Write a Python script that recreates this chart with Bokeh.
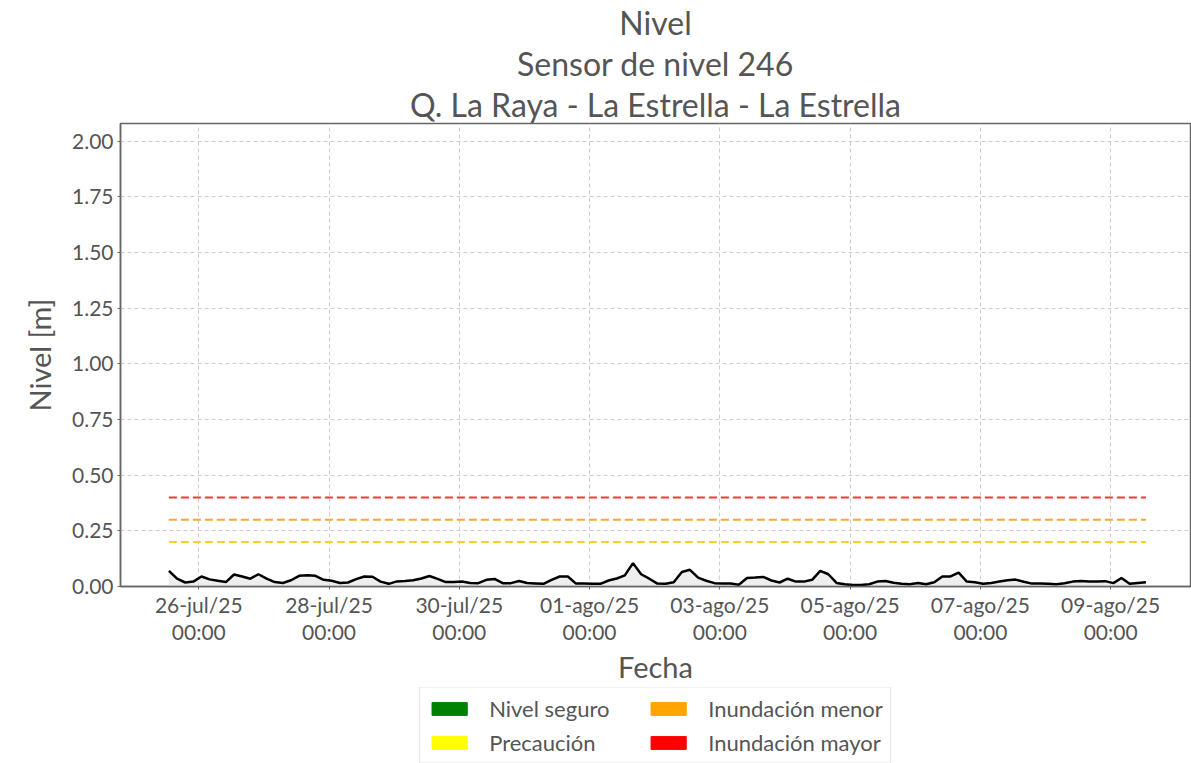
import pandas as pd
from bokeh.plotting import figure
from bokeh.layouts import column
from bokeh.models import (Range1d, FixedTicker, CustomJSTickFormatter, NumeralTickFormatter,
                          Legend, LegendItem, Title, ColumnDataSource)
from bokeh.embed import file_html
from bokeh.resources import INLINE

# ---------------- data ----------------
start_time = "2025-07-25 13:00"
step = "3h"
nivel = [0.070, 0.035, 0.018, 0.022, 0.045, 0.032, 0.026, 0.020, 0.054, 0.045,
         0.035, 0.055, 0.035, 0.020, 0.016, 0.028, 0.048, 0.050, 0.048, 0.030,
         0.026, 0.016, 0.018, 0.033, 0.045, 0.044, 0.022, 0.012, 0.023, 0.025,
         0.028, 0.036, 0.047, 0.034, 0.020, 0.020, 0.022, 0.016, 0.015, 0.030,
         0.034, 0.015, 0.015, 0.025, 0.016, 0.014, 0.012, 0.030, 0.045, 0.045,
         0.013, 0.013, 0.012, 0.012, 0.027, 0.036, 0.050, 0.105, 0.055, 0.035,
         0.013, 0.012, 0.019, 0.065, 0.075, 0.040, 0.026, 0.015, 0.013, 0.013,
         0.008, 0.038, 0.040, 0.043, 0.027, 0.018, 0.035, 0.022, 0.022, 0.030,
         0.070, 0.055, 0.016, 0.010, 0.007, 0.007, 0.010, 0.022, 0.025, 0.017,
         0.012, 0.010, 0.016, 0.010, 0.019, 0.045, 0.045, 0.062, 0.022, 0.019,
         0.012, 0.016, 0.022, 0.028, 0.031, 0.021, 0.013, 0.013, 0.012, 0.010,
         0.015, 0.022, 0.025, 0.022, 0.023, 0.024, 0.015, 0.038, 0.012, 0.016,
         0.019]

thr_values = [0.20, 0.30, 0.40]
thr_colors = ["#f7d22a", "#f8a83a", "#ee3b3b"]

legend_labels = ["Nivel seguro", "Precaución", "Inundación menor", "Inundación mayor"]
legend_colors = ["#008000", "#ffff00", "#ffa500", "#ff0000"]

x_tick_dates = ["2025-07-26", "2025-07-28", "2025-07-30", "2025-08-01",
                "2025-08-03", "2025-08-05", "2025-08-07", "2025-08-09"]
x_tick_labels = ["26-jul/25\n00:00", "28-jul/25\n00:00", "30-jul/25\n00:00", "01-ago/25\n00:00",
                 "03-ago/25\n00:00", "05-ago/25\n00:00", "07-ago/25\n00:00", "09-ago/25\n00:00"]
y_ticks = [0.0, 0.25, 0.5, 0.75, 1.0, 1.25, 1.5, 1.75, 2.0]

title_lines = ["Nivel", "Sensor de nivel 246", "Q. La Raya - La Estrella - La Estrella"]
# --------------------------------------

FONT = "Lato"
GREY = "#555555"

t = pd.date_range(start_time, periods=len(nivel), freq=step)
day0 = pd.Timestamp("2025-07-26")
x_start = day0 - pd.Timedelta(days=1.2015)
x_end = day0 + pd.Timedelta(days=15.226)

p = figure(width=1191, height=687, x_axis_type="datetime",
           x_range=Range1d(x_start, x_end), y_range=Range1d(0, 2.08),
           output_backend="svg", toolbar_location=None,
           min_border_left=114, min_border_right=1, min_border_top=121, min_border_bottom=97)

p.title = None
for line in reversed(title_lines):
    ttl = Title(text=line, align="center", text_font=FONT, text_font_size="32px",
                text_color=GREY, text_font_style="normal", standoff=0, offset=0,
                text_line_height=1.0)
    p.add_layout(ttl, "above")

# fill and line
p.varea(x=t, y1=0, y2=nivel, fill_color="#e3e3e3", fill_alpha=0.6)
p.line(x=t, y=nivel, line_color="black", line_width=2.5)

# thresholds
for v, c in zip(thr_values, thr_colors):
    p.line(x=[t[0], t[-1]], y=[v, v], line_color=c, line_width=2, line_dash="8 4")

# axes
tick_ms = [pd.Timestamp(d).value / 1e6 for d in x_tick_dates]
p.xaxis.ticker = FixedTicker(ticks=tick_ms)
p.xaxis.formatter = CustomJSTickFormatter(args=dict(tvals=tick_ms, tlabels=x_tick_labels), code="""
let best = 0, bd = Infinity;
for (let i = 0; i < tvals.length; i++) { const d = Math.abs(tvals[i] - tick); if (d < bd) { bd = d; best = i; } }
return tlabels[best];
""")
p.yaxis.ticker = FixedTicker(ticks=y_ticks)
p.yaxis.formatter = NumeralTickFormatter(format="0.00")

p.xaxis.axis_label = "Fecha"
p.yaxis.axis_label = "Nivel [m]"
for ax in (p.xaxis, p.yaxis):
    ax.axis_label_text_font = FONT
    ax.axis_label_text_font_size = "29px"
    ax.axis_label_text_font_style = "normal"
    ax.axis_label_text_color = GREY
    ax.major_label_text_font = FONT
    ax.major_label_text_font_size = "21px"
    ax.major_label_text_color = GREY
    ax.major_label_text_line_height = 1.1
    ax.axis_line_color = "#666666"
    ax.axis_line_width = 1.5
    ax.major_tick_line_color = "#666666"
    ax.major_tick_in = 0
    ax.major_tick_out = 3
    ax.minor_tick_line_color = None
    ax.major_label_standoff = 2
    ax.axis_label_standoff = 2
p.yaxis.axis_label_standoff = 12
p.yaxis.major_label_standoff = 4

p.outline_line_color = "#666666"
p.outline_line_width = 1.5
p.grid.grid_line_color = "#cccccc"
p.grid.grid_line_dash = "4 3"
p.grid.grid_line_width = 1

# legend figure below
pl = figure(width=1191, height=76, output_backend="svg", toolbar_location=None,
            x_range=Range1d(0, 1), y_range=Range1d(0, 1),
            min_border_left=120, min_border_right=0, min_border_top=0, min_border_bottom=0)
pl.axis.visible = False
pl.grid.visible = False
pl.outline_line_color = None
items = []
for lab, c in zip(legend_labels, legend_colors):
    src = ColumnDataSource(dict(l=[float("nan")], r=[float("nan")], t=[float("nan")], b=[float("nan")]))
    r = pl.quad(left="l", right="r", top="t", bottom="b", source=src, fill_color=c, line_color=c)
    items.append(LegendItem(label=lab, renderers=[r], index=0))

legend = Legend(items=items, ncols=2, location="center", glyph_width=44, glyph_height=16,
                label_text_font=FONT, label_text_font_size="22px", label_text_color=GREY,
                label_standoff=18, label_width=150, label_height=20, spacing=7, padding=7, margin=0,
                border_line_color="#cccccc", border_line_width=1.5, background_fill_alpha=1)
pl.add_layout(legend, "center")

layout = column(p, pl, spacing=0)
open("out.html", "w").write(file_html(layout, INLINE))
